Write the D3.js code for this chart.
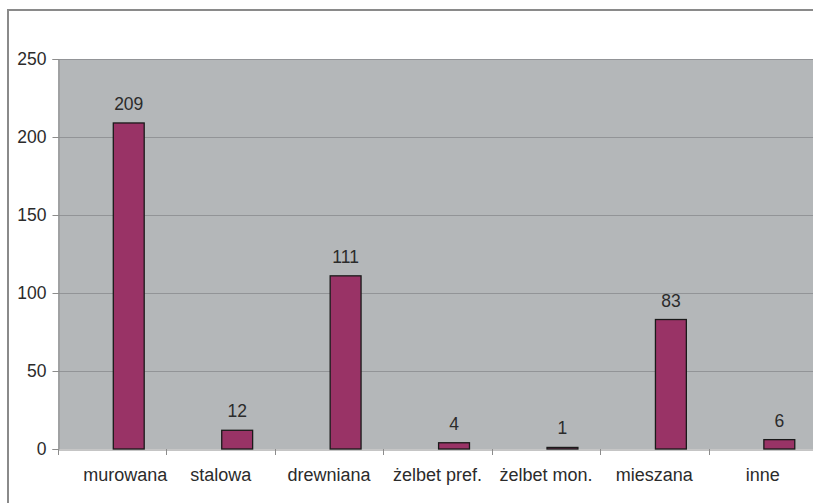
<!DOCTYPE html>
<html>
<head>
<meta charset="utf-8">
<script src="https://cdn.jsdelivr.net/npm/d3@7"></script>
<style>
  body { margin: 0; background: #fff; overflow: hidden; }
  svg { display: block; }
  svg text { font-family: "Liberation Sans", Arial, sans-serif; fill: #2b2b2b; }
</style>
</head>
<body>
<div id="chart"></div>
<script>
var categories = ['murowana', 'stalowa', 'drewniana', 'żelbet pref.', 'żelbet mon.', 'mieszana', 'inne'];
var values = [209, 12, 111, 4, 1, 83, 6];
var yTicks = [0, 50, 100, 150, 200, 250];

var W = 813, H = 503;
var plot = {left: 58, top: 59, right: 817, bottom: 449};

var svg = d3.select('#chart')
  .append('svg')
  .attr('width', W)
  .attr('height', H);

// outer chart frame, only the left and top edges are in view
svg.append('path')
  .attr('d', 'M8,' + H + 'V10H' + W)
  .attr('fill', 'none')
  .attr('stroke', '#8a8a8a')
  .attr('stroke-width', 2);

var x = d3.scaleBand()
  .domain(categories)
  .range([plot.left, plot.right]);

var y = d3.scaleLinear()
  .domain([0, 250])
  .range([plot.bottom, plot.top]);

// plot area
svg.append('rect')
  .attr('x', plot.left)
  .attr('y', plot.top)
  .attr('width', plot.right - plot.left)
  .attr('height', plot.bottom - plot.top)
  .attr('fill', '#b4b7b9');

// gridlines
svg.append('g')
  .selectAll('line')
  .data(yTicks.filter(function(d) { return d > 0; }))
  .enter().append('line')
  .attr('x1', plot.left)
  .attr('x2', plot.right)
  .attr('y1', function(d) { return Math.round(y(d)) + 0.5; })
  .attr('y2', function(d) { return Math.round(y(d)) + 0.5; })
  .attr('stroke', '#929497')
  .attr('stroke-width', 1);

// y axis
var yAxis = svg.append('g')
  .attr('transform', 'translate(' + (plot.left + 0.5) + ',0)')
  .call(d3.axisLeft(y).tickValues(yTicks).tickSize(6).tickPadding(6));
yAxis.select('.domain').attr('stroke', '#8c8c8c');
yAxis.selectAll('.tick line').attr('stroke', '#8c8c8c');
yAxis.selectAll('.tick text')
  .style('font-size', '17.5px')
  .attr('fill', '#2b2b2b');

// x axis
var xAxis = svg.append('g')
  .attr('transform', 'translate(0,' + (plot.bottom + 0.5) + ')')
  .call(d3.axisBottom(x).tickSize(0).tickPadding(19));
xAxis.select('.domain').attr('stroke', '#8c8c8c');
xAxis.selectAll('.tick text')
  .style('font-size', '18px')
  .attr('fill', '#2b2b2b')
  .attr('dx', function(d, i) { return i === 0 ? 13 : 0; });

// category boundary tick marks
svg.append('g')
  .selectAll('line')
  .data(categories)
  .enter().append('line')
  .attr('x1', function(d) { return Math.round(x(d)) + 0.5; })
  .attr('x2', function(d) { return Math.round(x(d)) + 0.5; })
  .attr('y1', plot.bottom)
  .attr('y2', plot.bottom + 6)
  .attr('stroke', '#8c8c8c');

// bars
var bw = x.bandwidth();
var barW = bw * 0.285;
var barX = function(d) { return x(d) + bw * 0.51; };

svg.append('g')
  .selectAll('rect')
  .data(values)
  .enter().append('rect')
  .attr('x', function(d, i) { return barX(categories[i]); })
  .attr('y', function(d) { return y(d); })
  .attr('width', barW)
  .attr('height', function(d) { return y(0) - y(d); })
  .attr('fill', '#993366')
  .attr('stroke', '#1a1a1a')
  .attr('stroke-width', 1.3);

// value labels
svg.append('g')
  .selectAll('text')
  .data(values)
  .enter().append('text')
  .attr('x', function(d, i) { return barX(categories[i]) + barW / 2; })
  .attr('y', function(d) { return y(d) - 13; })
  .attr('text-anchor', 'middle')
  .style('font-size', '17.5px')
  .text(function(d) { return d; });
</script>
</body>
</html>
